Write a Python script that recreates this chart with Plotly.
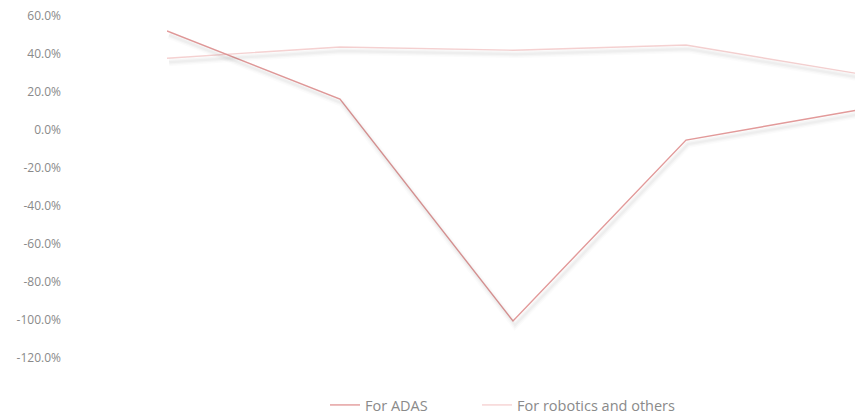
import plotly.graph_objects as go

# Year-over-year growth by period (%)
periods = [0, 1, 2, 3, 4]
adas_growth = [52.1, 16.3, -100.5, -5.3, 10.6]
robotics_growth = [37.8, 43.7, 42.0, 44.7, 29.6]
series_names = ["For ADAS", "For robotics and others"]
y_ticks = [60, 40, 20, 0, -20, -40, -60, -80, -100, -120]

W, H = 855, 418
ML, MR, MT, MB = 167, 0, 16, 60
plot_w = W - ML - MR
plot_h = H - MT - MB

adas_color = "#e39a9a"
robo_color = "#f6d2d2"
x_range = [0, 3.977]
y_range = [-120, 60]

# shadow axes: same scale, ranges nudged so the marks land a few pixels right/down
sx = 2 / plot_w * (x_range[1] - x_range[0])
sy = 4 / plot_h * (y_range[1] - y_range[0])
x2_range = [x_range[0] - sx, x_range[1] - sx]
y2_range = [y_range[0] + sy, y_range[1] + sy]

fig = go.Figure()

# soft, blurred-looking shadow: a few faint strokes of different widths
for width, alpha in ((8, 0.016), (5, 0.022), (2.5, 0.028)):
    for vals in (robotics_growth, adas_growth):
        fig.add_trace(go.Scatter(
            x=periods, y=vals, mode="lines", xaxis="x2", yaxis="y2",
            line=dict(color=f"rgba(0,0,0,{alpha})", width=width),
            showlegend=False, hoverinfo="skip",
        ))

fig.add_trace(go.Scatter(
    x=periods, y=robotics_growth, mode="lines", name=series_names[1],
    line=dict(color=robo_color, width=1.4), legend="legend2",
))
fig.add_trace(go.Scatter(
    x=periods, y=adas_growth, mode="lines", name=series_names[0],
    line=dict(color=adas_color, width=1.4), legend="legend",
))

font = dict(family="Open Sans, Noto Sans, sans-serif", size=12, color="#8a8a8a")
legend_font = dict(family="Open Sans, Noto Sans, sans-serif", size=14.5, color="#8a8a8a")
legend_common = dict(
    orientation="h", xref="container", yref="container",
    xanchor="left", y=13 / H, yanchor="middle",
    font=legend_font, bgcolor="rgba(0,0,0,0)",
)

fig.update_layout(
    width=W, height=H,
    margin=dict(l=ML, r=MR, t=MT, b=MB, autoexpand=False),
    paper_bgcolor="white", plot_bgcolor="rgba(0,0,0,0)",
    font=font,
    xaxis=dict(range=x_range, visible=False),
    yaxis=dict(
        range=y_range, tickvals=y_ticks,
        ticktext=[f"{v:.1f}%" for v in y_ticks],
        showgrid=False, zeroline=False, showline=False, ticks="",
        ticklabelstandoff=105, tickfont=font,
    ),
    xaxis2=dict(range=x2_range, visible=False, overlaying="x"),
    yaxis2=dict(range=y2_range, visible=False, overlaying="y"),
    legend=dict(x=325 / W, **legend_common),
    legend2=dict(x=477 / W, **legend_common),
    showlegend=True,
)

fig.write_html("out.html")
